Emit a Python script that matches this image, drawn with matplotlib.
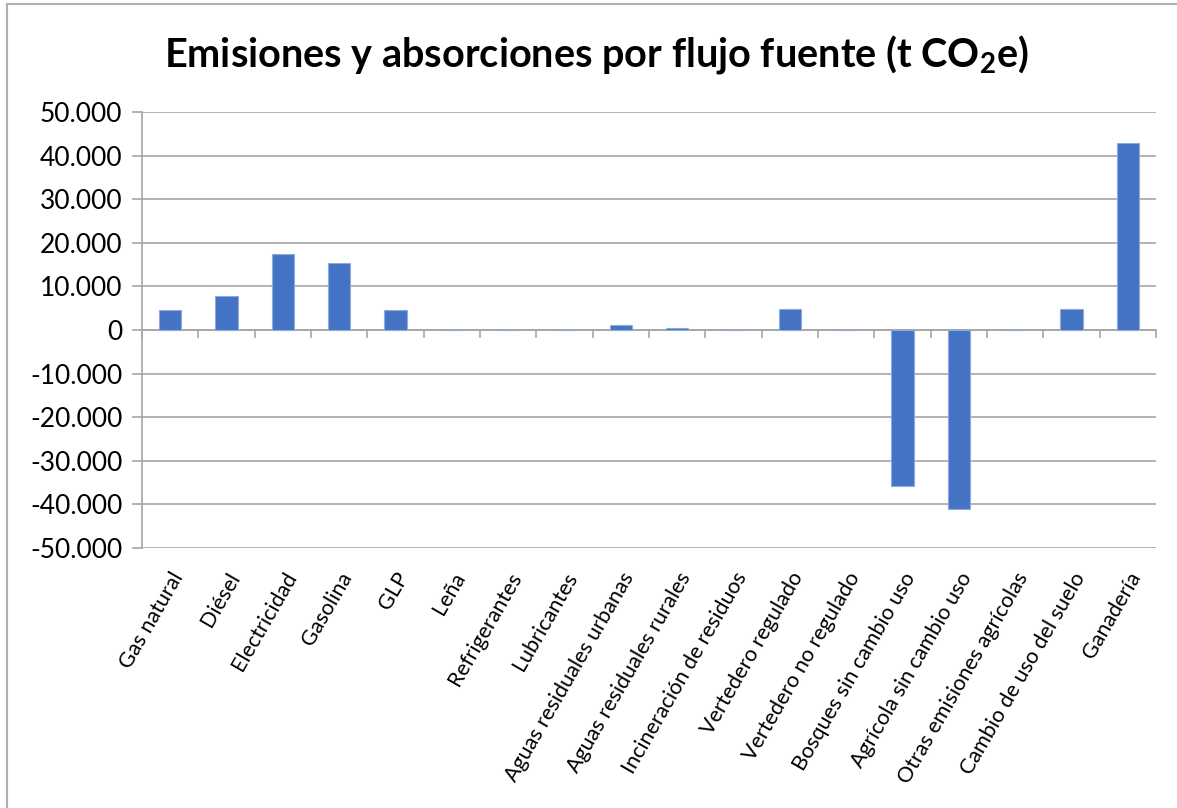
import numpy as np
import matplotlib.pyplot as plt
from matplotlib.patches import Rectangle
from matplotlib.ticker import FuncFormatter, MultipleLocator

plt.rcParams['font.family'] = ['Lato', 'DejaVu Sans']
plt.rcParams['mathtext.fontset'] = 'custom'
plt.rcParams['mathtext.bf'] = 'Lato:bold'
plt.rcParams['mathtext.rm'] = 'Lato'

categories = [
    'Gas natural', 'Diésel', 'Electricidad', 'Gasolina', 'GLP', 'Leña',
    'Refrigerantes', 'Lubricantes', 'Aguas residuales urbanas',
    'Aguas residuales rurales', 'Incineración de residuos',
    'Vertedero regulado', 'Vertedero no regulado', 'Bosques sin cambio uso',
    'Agrícola sin cambio uso', 'Otras emisiones agrícolas',
    'Cambio de uso del suelo', 'Ganadería',
]
values = [4600, 7900, 17400, 15300, 4600, 100, 100, 100, 1200, 450, 100,
          4750, 100, -35700, -41000, 0, 4750, 42800]

title = r'Emisiones y absorciones por flujo fuente (t CO$_\mathbf{2}$e)'

bar_color = '#4472C4'
grid_color = '#a6a6a6'

fig = plt.figure(figsize=(11.77, 8.08), dpi=100)
ax = fig.add_axes([142 / 1177, 1 - 548 / 808, (1156 - 142) / 1177, (548 - 112) / 808])

x = np.arange(len(categories))
ax.bar(x, values, width=0.4, color=bar_color, edgecolor='#8eaadb', linewidth=0.8, zorder=3)

ax.set_xlim(-0.5, len(categories) - 0.5)
ax.set_ylim(-50000, 50000)
ax.yaxis.set_major_locator(MultipleLocator(10000))
ax.yaxis.set_major_formatter(FuncFormatter(lambda v, p: f'{int(v):,}'.replace(',', '.')))
ax.grid(axis='y', color=grid_color, linewidth=1.2, zorder=0)

for s in ['top', 'right']:
    ax.spines[s].set_visible(False)
ax.spines['left'].set_color(grid_color)
ax.spines['left'].set_linewidth(1.2)
ax.spines['bottom'].set_position(('data', 0))
ax.spines['bottom'].set_color(grid_color)
ax.spines['bottom'].set_linewidth(1.2)

ax.tick_params(axis='y', length=7, width=1.2, color=grid_color, labelsize=19, pad=7)
ax.set_xticks(x)
ax.set_xticks(np.arange(len(categories) + 1) - 0.5, minor=True)
ax.tick_params(axis='x', which='major', length=0, labelsize=15.5, pad=172)
ax.tick_params(axis='x', which='minor', length=6, width=1.2, color=grid_color)
ax.set_xticklabels(categories, rotation=60, ha='right', rotation_mode='anchor')

fig.text(597 / 1177, 1 - 55 / 808, title, ha='center', va='center',
         fontsize=28.5, fontweight='bold')

fig.patches.append(Rectangle((7 / 1177, -0.1), 1.2, 1 - 4.5 / 808 + 0.1,
                             transform=fig.transFigure, fill=False,
                             edgecolor='#b0b0b0', linewidth=1.5))

fig.savefig('out.png', dpi=100)
